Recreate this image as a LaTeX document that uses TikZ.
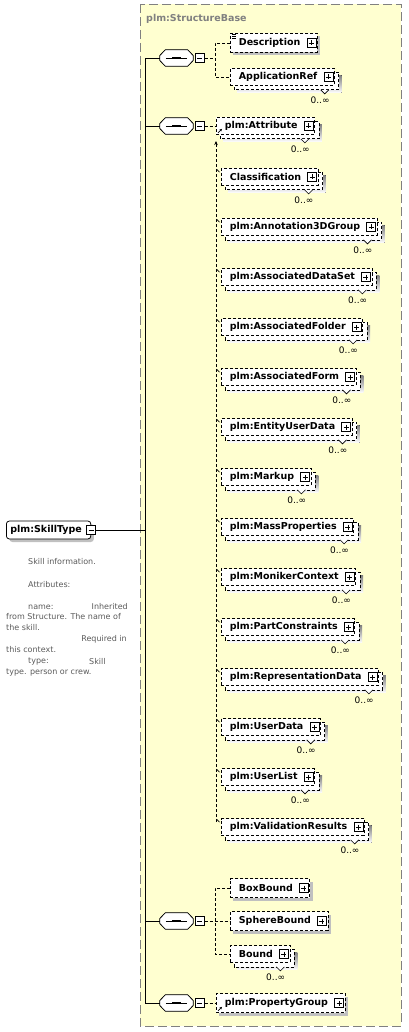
\documentclass[tikz,border=0pt]{standalone}
\usepackage{fontspec}
\setmainfont{DejaVu Sans}
\usetikzlibrary{shadows,arrows.meta}
\definecolor{panel}{RGB}{255,255,208}
\definecolor{panelline}{RGB}{128,128,128}
\definecolor{shade}{RGB}{192,192,192}
\definecolor{doccol}{RGB}{90,90,90}
\pgfdeclarelayer{bg}
\pgfdeclarelayer{stack}
\pgfsetlayers{bg,stack,main}
\tikzset{
  trunkline/.style={line width=.75pt},
  dashline/.style={line width=.75pt, dash pattern=on 3pt off 2pt},
  graysh/.style={drop shadow={shadow xshift=3pt, shadow yshift=-3pt, fill=shade, opacity=1}},
  minusbox/.style={draw, solid, fill=white, line width=.6pt, minimum size=9, inner sep=0,
    path picture={\draw[solid, line width=.6pt] ([xshift=2pt]path picture bounding box.west) -- ([xshift=-2pt]path picture bounding box.east);}},
  elembox/.style={draw, dashline, fill=white, anchor=west, minimum height=19, inner sep=0,
    font=\bfseries\fontsize{9.5pt}{11pt}\selectfont,
    execute at begin node=\hspace*{8.5pt}, execute at end node=\hspace*{17pt},
    path picture={
      \draw[solid, line width=.6pt, fill=white] ([xshift=-10.5pt]path picture bounding box.east) ++(0,-4.5) rectangle ++(9,9);
      \draw[solid, line width=.6pt] ([xshift=-8.5pt]path picture bounding box.east) -- ++(5,0)
        ([xshift=-6pt]path picture bounding box.east) ++(0,-2.5) -- ++(0,5);}},
  manybox/.style={minimum height=17},
  rootbox/.style={draw, solid, fill=white, line width=.75pt, rounded corners=3pt, anchor=west,
    minimum height=18, inner sep=0, font=\bfseries\fontsize{9.5pt}{11pt}\selectfont,
    execute at begin node=\hspace*{4pt}, execute at end node=\hspace*{9pt}, graysh},
  seqbox/.style={minimum width=33, minimum height=16, inner sep=0},
  doctext/.style={text=doccol, font=\fontsize{8pt}{10pt}\selectfont, inner sep=0},
  occ/.style={anchor=east, inner sep=0, font=\fontsize{9pt}{10pt}\selectfont},
  tick/.style={line width=.6pt}
}
\begin{document}
\begin{tikzpicture}[x=1pt,y=-1pt]
\useasboundingbox (0,0) rectangle (408,1032);
\begin{pgfonlayer}{bg}
\draw[panelline, line width=.75pt, dash pattern=on 9pt off 4pt, fill=panel] (140,4) rectangle (401,1026);
\end{pgfonlayer}
\node[anchor=west, inner sep=0, text=panelline, font=\bfseries\fontsize{9.5pt}{11pt}\selectfont] (title) at (146,19) {plm:StructureBase};

\node[rootbox] (skill) at (6,530) {plm:SkillType};
\node[minusbox] (skillm) at (skill.east) {};
\node[doctext, anchor=west] (doc1) at (28,562) {Skill information.};
\node[doctext, anchor=west] (doc2) at (28,585) {Attributes:};
\node[doctext, anchor=west] (doc3) at (28,607) {name:};
\node[doctext, anchor=east] (doc4) at (128,607) {Inherited};
\node[doctext, anchor=west] (doc5) at (6,617) {from Structure. The name of};
\node[doctext, anchor=west] (doc6) at (6,628) {the skill.};
\node[doctext, anchor=east] (doc7) at (127,639) {Required in};
\node[doctext, anchor=west] (doc8) at (6,650) {this context.};
\node[doctext, anchor=west] (doc9) at (28,662) {type:};
\node[doctext, anchor=west] (doc10) at (89,662) {Skill};
\node[doctext, anchor=west] (doc11) at (6,673) {type. person or crew.};

\coordinate (trunk) at (145,530);
\node[seqbox] (s1) at (176.5,58) {};
\node[seqbox] (s2) at (176.5,126) {};
\node[seqbox] (s3) at (176.5,921) {};
\node[seqbox] (s4) at (176.5,1003) {};
\foreach \s in {s1,s2,s3,s4} {
  \fill[shade, shift={(3,3)}] ([yshift=2.5pt]\s.west) -- ([xshift=5.5pt]\s.north west) -- ([xshift=-5.5pt]\s.north east)
    -- ([yshift=2.5pt]\s.east) -- ([yshift=-2.5pt]\s.east) -- ([xshift=-5.5pt]\s.south east)
    -- ([xshift=5.5pt]\s.south west) -- ([yshift=-2.5pt]\s.west) -- cycle;
  \draw[line width=.75pt, fill=white] ([yshift=2.5pt]\s.west) -- ([xshift=5.5pt]\s.north west) -- ([xshift=-5.5pt]\s.north east)
    -- ([yshift=2.5pt]\s.east) -- ([yshift=-2.5pt]\s.east) -- ([xshift=-5.5pt]\s.south east)
    -- ([xshift=5.5pt]\s.south west) -- ([yshift=-2.5pt]\s.west) -- cycle;
  \draw[line width=.9pt] ([xshift=6pt]\s.west) -- ([xshift=-6pt]\s.east);
  \foreach \d in {-3,0,3} \fill ([xshift=\d pt]\s.center) ++(-1.2,-1.2) rectangle ++(2.4,2.4);
}
\node[minusbox] (m1) at ([xshift=6.5pt]s1.east) {};
\node[minusbox] (m2) at ([xshift=6.5pt]s2.east) {};
\node[minusbox] (m3) at ([xshift=6.5pt]s3.east) {};
\node[minusbox] (m4) at ([xshift=6.5pt]s4.east) {};

\draw[trunkline] (skillm.east) -- (trunk);
\draw[trunkline] (s1.west) -| (trunk);
\draw[trunkline] (s4.west) -| (trunk);
\draw[trunkline] (s2.west) -- (s2.west -| trunk);
\draw[trunkline] (s3.west) -- (s3.west -| trunk);

\node[elembox, graysh] (desc) at (230,43) {Description};
\node[elembox, manybox] (appref) at (230,77) {ApplicationRef};
\node[elembox, manybox] (attr) at (216,126) {plm:Attribute};
\node[elembox, manybox] (clsf) at (221,177) {Classification};
\node[elembox, manybox] (anno) at (221,227) {plm:Annotation3DGroup};
\node[elembox, manybox] (adset) at (221,277) {plm:AssociatedDataSet};
\node[elembox, manybox] (afold) at (221,327) {plm:AssociatedFolder};
\node[elembox, manybox] (aform) at (221,377) {plm:AssociatedForm};
\node[elembox, manybox] (eud) at (221,427) {plm:EntityUserData};
\node[elembox, manybox] (markup) at (221,477) {plm:Markup};
\node[elembox, manybox] (mprop) at (221,527) {plm:MassProperties};
\node[elembox, manybox] (mctx) at (221,577) {plm:MonikerContext};
\node[elembox, manybox] (pcons) at (221,627) {plm:PartConstraints};
\node[elembox, manybox] (rdata) at (221,677) {plm:RepresentationData};
\node[elembox, manybox] (udata) at (221,727) {plm:UserData};
\node[elembox, manybox] (ulist) at (221,777) {plm:UserList};
\node[elembox, manybox] (valres) at (221,827) {plm:ValidationResults};
\node[elembox, graysh] (boxb) at (230,888) {BoxBound};
\node[elembox, graysh] (sphb) at (230,921) {SphereBound};
\node[elembox, manybox] (bound) at (230,954) {Bound};
\node[elembox, graysh] (propgrp) at (216,1003) {plm:PropertyGroup};

\draw[dashline] (m1.east) -- ++(11,0);
\draw[dashline] (desc.west) -- ++(-15,0) |- (appref.west);
\draw[dashline] (m2.east) -- (attr.west);
\draw[dashline] (m3.east) -- (sphb.west);
\draw[dashline] (boxb.west) -- ++(-15,0) |- (bound.west);
\draw[dashline] (m4.east) -- (propgrp.west);
\coordinate (subtop) at (216,141);
\coordinate (subend) at (216,822);
\draw[dashline, -{Stealth[length=4pt, width=3.5pt]}] (subend) -- (subtop);
\foreach \n in {clsf,anno,adset,afold,aform,eud,markup,mprop,mctx,pcons,rdata,udata,ulist,valres}
  \draw[tick] (\n.north west) ++(-4.5,1) -- ++(3,3);

\draw[line width=.6pt, -{Stealth[length=2.5pt, width=2.5pt]}] ([shift={(2,-2)}]attr.south west) -- ++(4,-4);
\draw[line width=.6pt, -{Stealth[length=2.5pt, width=2.5pt]}] ([shift={(2,-2)}]propgrp.south west) -- ++(4,-4);
\draw[line width=.6pt] ([shift={(2,1.5)}]desc.north west) -- ++(4,0) ++(-4,2) -- ++(4,0) ++(-4,2) -- ++(4,0);

\begin{pgfonlayer}{stack}
\foreach \n in {appref,attr,clsf,anno,adset,afold,aform,eud,markup,mprop,mctx,pcons,rdata,udata,ulist,valres,bound} {
  \fill[shade] ([shift={(7,7)}]\n.north west) rectangle ([shift={(7,7)}]\n.south east);
  \draw[dashline, fill=white] ([shift={(4,4)}]\n.north west) rectangle ([shift={(4,4)}]\n.south east);
  \draw[line width=.6pt, fill=white] ([shift={(-14,4)}]\n.south east) -- ++(4,4) -- ++(4,-4);
  \node[occ] (\n-occ) at ([shift={(-5,14.5)}]\n.south east) {0..∞};
}
\end{pgfonlayer}
\end{tikzpicture}
\end{document}
